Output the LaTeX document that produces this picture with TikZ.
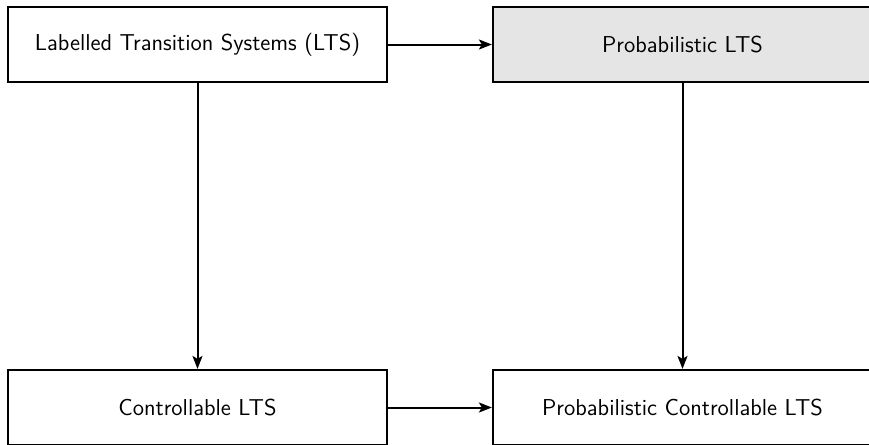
\documentclass[tikz,border=0pt]{standalone}
\usetikzlibrary{arrows.meta}

\begin{document}
\begin{tikzpicture}[
		  x=0.5pt, y=-0.5pt,
		  every node/.style={font=\sffamily\fontsize{11.5}{13.5}\selectfont}
		]

		\tikzset{
		    caixa/.style={draw=black, line width=1.1pt, rectangle, minimum width=189.5pt, minimum height=37.5pt, inner sep=0pt},
		    cinza/.style={caixa, fill=black!10},
		    seta/.style={-{Stealth[length=6.5pt, width=5pt, inset=1.5pt]}, line width=1pt}
		}

		\useasboundingbox (0,0) rectangle (869,445);
		\clip (0,0) rectangle (869,445);

		% Linha de cima
		\node[caixa] (LTS) at (197.5,44.5) {Labelled Transition Systems (LTS)};
		\node[cinza] (PLTS) at (682.5,44.5) {Probabilistic LTS};

		% Linha de baixo
		\node[caixa] (CLTS) at (197.5,407.5) {Controllable LTS};
		\node[caixa] (PCLTS) at (682.5,407.5) {Probabilistic Controllable LTS};

		% setas
		\draw[seta] (LTS) -- (PLTS);
		\draw[seta] (LTS) -- (CLTS);
		\draw[seta] (PLTS) -- (PCLTS);
		\draw[seta] (CLTS) -- (PCLTS);

		\end{tikzpicture}
\end{document}
